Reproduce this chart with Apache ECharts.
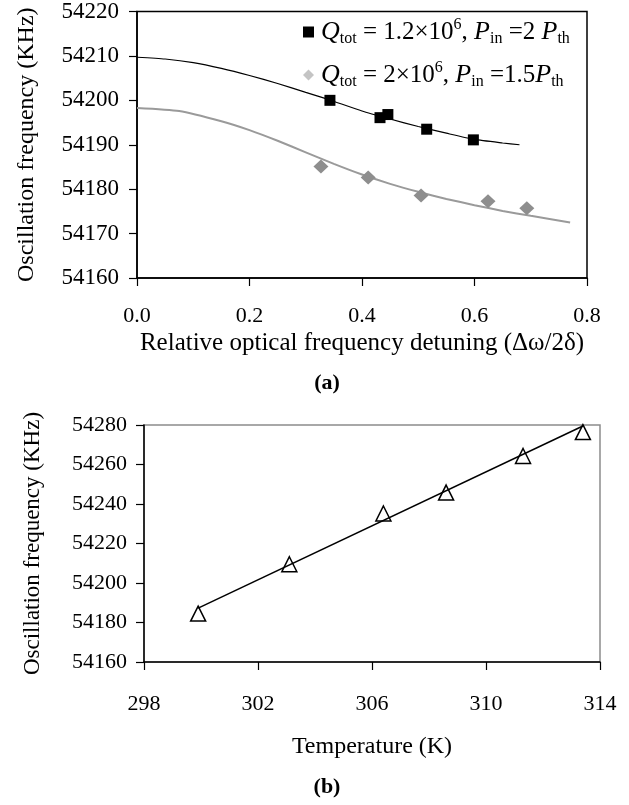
<!DOCTYPE html>
<html><head><meta charset="utf-8">
<script src="https://cdn.jsdelivr.net/npm/echarts@6/dist/echarts.min.js"></script>
<style>html,body{margin:0;padding:0;background:#fff}#c{width:629px;height:805px}</style>
</head><body><div id="c"></div>
<script>
// ---- data (a) ----
const xTicksA = [0.0, 0.2, 0.4, 0.6, 0.8];
const yTicksA = [54160, 54170, 54180, 54190, 54200, 54210, 54220];
const fitHighQ = [[0,54209.7],[0.05,54209.3],[0.1,54208.5],[0.15,54207.2],[0.2,54205.6],[0.25,54203.8],[0.3,54201.8],[0.34,54200.2],[0.4,54197.6],[0.45,54195.8],[0.5,54194.1],[0.55,54192.6],[0.6,54191.2],[0.65,54190.4],[0.68,54190.0]];
const measHighQ = [[0.343,54200.0],[0.432,54196.1],[0.446,54196.8],[0.515,54193.5],[0.598,54191.1]];
const fitLowQ = [[0,54198.3],[0.075,54197.6],[0.15,54195.3],[0.2,54193.3],[0.25,54190.9],[0.3,54188.3],[0.35,54185.7],[0.4,54183.3],[0.45,54181.2],[0.5,54179.4],[0.55,54177.8],[0.6,54176.4],[0.65,54175.1],[0.7,54174.0],[0.77,54172.5]];
const measLowQ = [[0.327,54185.1],[0.411,54182.6],[0.505,54178.6],[0.624,54177.3],[0.693,54175.7]];
// ---- data (b) ----
const xTicksB = [298, 302, 306, 310, 314];
const yTicksB = [54160, 54180, 54200, 54220, 54240, 54260, 54280];
const tempK = [299.9, 303.1, 306.4, 308.6, 311.3, 313.4];
const freqT = [54184.5, 54209.5, 54235.2, 54245.8, 54264.3, 54276.4];
const fitT = [[299.9,54187.3],[313.4,54279.5]];

const FONT = 'Liberation Serif';
const chart = echarts.init(document.getElementById('c'));
function lab(size){ return {color:'#000', fontFamily:FONT, fontSize:size}; }
function axisCommon(extra){
  return Object.assign({
    axisLine:{show:true, lineStyle:{color:'#000', width:1.5}},
    axisTick:{show:true, inside:false, length:8, lineStyle:{color:'#000', width:1.2}},
    splitLine:{show:false}
  }, extra);
}
const legendNames = {
  s1:'{qi|Q}{sub|tot}{n| = 1.2×10}{sup|6}{n|, }{qi|P}{sub|in}{n| =2 }{qi|P}{sub|th}',
  s2:'{qi|Q}{sub|tot}{n| = 2×10}{sup|6}{n|, }{qi|P}{sub|in}{n| =1.5}{qi|P}{sub|th}'
};
chart.setOption({
  animation:false,
  backgroundColor:'#fff',
  grid:[
    {left:137, top:10, width:450, height:268, show:true, borderColor:'#000', borderWidth:1.5, containLabel:false},
    {left:144, top:425, width:456, height:237, show:true, borderColor:'#8c8c8c', borderWidth:1.5, containLabel:false}
  ],
  xAxis:[
    axisCommon({gridIndex:0, type:'value', min:xTicksA[0], max:xTicksA[xTicksA.length-1], interval:0.2,
      axisLabel:Object.assign({margin:27, formatter:v=>v.toFixed(1)}, lab(22)),
      name:'Relative optical frequency detuning (Δω/2δ)', nameLocation:'middle', nameGap:53,
      nameTextStyle:lab(25)}),
    axisCommon({gridIndex:1, type:'value', min:xTicksB[0], max:xTicksB[xTicksB.length-1], interval:4,
      axisLabel:Object.assign({margin:31}, lab(22)),
      name:'Temperature (K)', nameLocation:'middle', nameGap:73, nameTextStyle:lab(24)})
  ],
  yAxis:[
    axisCommon({gridIndex:0, type:'value', min:yTicksA[0], max:yTicksA[yTicksA.length-1], interval:10,
      axisLabel:Object.assign({margin:18, formatter:v=>String(v)}, lab(23)),
      name:'Oscillation frequency (KHz)', nameLocation:'middle', nameGap:98, nameTextStyle:lab(24)}),
    axisCommon({gridIndex:1, type:'value', min:yTicksB[0], max:yTicksB[yTicksB.length-1], interval:20,
      axisLabel:Object.assign({margin:17, formatter:v=>String(v)}, lab(22)),
      name:'Oscillation frequency (KHz)', nameLocation:'middle', nameGap:100, nameTextStyle:lab(23)})
  ],
  legend:{
    orient:'vertical', left:298, top:12, itemGap:13, itemWidth:11, itemHeight:11,
    data:[{name:'s1', icon:'rect', itemStyle:{color:'#000'}},{name:'s2', icon:'diamond', itemStyle:{color:'#c4c4c4'}}],
    formatter:n=>legendNames[n],
    textStyle:{color:'#000', fontFamily:FONT, fontSize:25, padding:[0,0,0,2],
      rich:{
        n:{fontFamily:FONT, fontSize:25, color:'#000', lineHeight:30},
        qi:{fontFamily:FONT, fontSize:26, fontStyle:'italic', color:'#000', lineHeight:30},
        sub:{fontFamily:FONT, fontSize:16, color:'#000', lineHeight:30, verticalAlign:'bottom', padding:[10,0,0,0]},
        sup:{fontFamily:FONT, fontSize:16, color:'#000', lineHeight:30, verticalAlign:'top', padding:[0,0,12,0]}
      }}
  },
  graphic:[
    {type:'text', x:327, y:383, style:{text:'(a)', font:'bold 22px "Liberation Serif"', fill:'#000', align:'center', verticalAlign:'middle'}},
    {type:'text', x:327, y:787, style:{text:'(b)', font:'bold 22px "Liberation Serif"', fill:'#000', align:'center', verticalAlign:'middle'}}
  ],
  series:[
    {name:'fit1', type:'line', xAxisIndex:0, yAxisIndex:0, data:fitHighQ, showSymbol:false, smooth:0.2,
      lineStyle:{color:'#000', width:1.2}, z:2},
    {name:'fit2', type:'line', xAxisIndex:0, yAxisIndex:0, data:fitLowQ, showSymbol:false, smooth:0.2,
      lineStyle:{color:'#9a9a9a', width:2}, z:2},
    {name:'s1', type:'scatter', xAxisIndex:0, yAxisIndex:0, data:measHighQ, symbol:'rect', symbolSize:11,
      itemStyle:{color:'#000', opacity:1}, z:3},
    {name:'s2', type:'scatter', xAxisIndex:0, yAxisIndex:0, data:measLowQ, symbol:'diamond', symbolSize:[15,14],
      itemStyle:{color:'#8e8e8e', opacity:1}, z:3},
    {name:'fitT', type:'line', xAxisIndex:1, yAxisIndex:1, data:fitT, showSymbol:false,
      lineStyle:{color:'#000', width:1.5}, z:2},
    {name:'meas', type:'scatter', xAxisIndex:1, yAxisIndex:1, data:tempK.map((t,i)=>[t,freqT[i]]),
      symbol:'triangle', symbolSize:[15,15],
      itemStyle:{color:'rgba(0,0,0,0)', borderColor:'#000', borderWidth:1.5, opacity:1}, z:3}
  ]
});
</script></body></html>
